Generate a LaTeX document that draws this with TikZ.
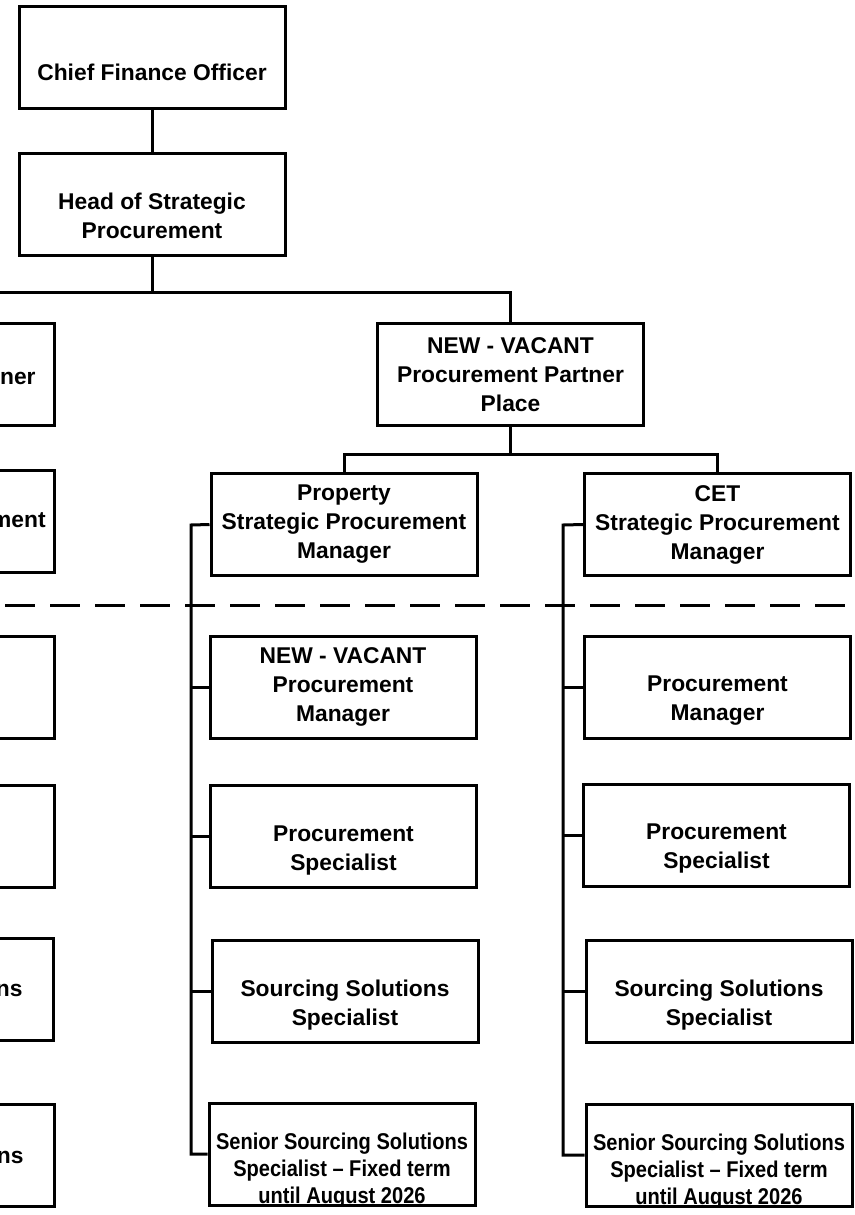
\documentclass[tikz,border=0pt]{standalone}
\usepackage{fontspec}
\setmainfont{Liberation Sans}
\newfontfamily\condfont{Liberation Sans}[FakeStretch=0.88]
\usetikzlibrary{positioning}

\begin{document}
\begin{tikzpicture}[x=0.5pt, y=-0.5pt,
                    post/.style = {
                        draw=black, line width=1.5pt, minimum width=133pt, minimum height=51pt, inner sep=0pt
                    },
                    title/.style = {
                        font=\fontsize{11.4}{14.5}\selectfont\bfseries, align=center, inner sep=0pt
                    },
                    narrow/.style = {
                        font=\condfont\fontsize{11.4}{13.5}\selectfont\bfseries, align=center, inner sep=0pt
                    },
                    link/.style = {line width=1.5pt}
                ]
                    \useasboundingbox (0,0) rectangle (855,1215);
                    \clip (0,0) rectangle (855,1215);

                    % Top of the chart
                    \node[post] (cfo) at (152,57.5) {};
                    \node[title] (cfotxt) at ([yshift=-7.25pt]cfo.center) {Chief Finance Officer};
                    \node[post] (hsp) at (152,204.5) {};
                    \node[title] (hsptxt) at ([yshift=-5.75pt]hsp.center) {Head of Strategic\\Procurement};

                    % Partner level
                    \node[post] (pplace) at (510.5,374) {};
                    \node[title] (pplacetxt) at ([yshift=-0.5pt]pplace.center) {NEW - VACANT\\Procurement Partner\\Place};
                    \node[post] (prop) at (344,524.5) {};
                    \node[title] (proptxt) at (prop.center) {Property\\Strategic Procurement\\Manager};
                    \node[post] (cet) at (717.5,524.5) {};
                    \node[title] (cettxt) at (cet.center) {CET\\Strategic Procurement\\Manager};

                    % Property team
                    \node[post] (pmgr1) at (343,687) {};
                    \node[title] (pmgr1txt) at (pmgr1.center) {NEW - VACANT\\Procurement\\Manager};
                    \node[post] (pspec1) at (343.5,836) {};
                    \node[title] (pspec1txt) at ([yshift=-7.5pt]pspec1.center) {Procurement\\Specialist};
                    \node[post] (sss1) at (345,991) {};
                    \node[title] (sss1txt) at ([yshift=-7.25pt]sss1.center) {Sourcing Solutions\\Specialist};
                    \node[post] (senior1) at (342,1154) {};

                    % CET team
                    \node[post] (pmgr2) at (717.5,687) {};
                    \node[title] (pmgr2txt) at ([yshift=-7pt]pmgr2.center) {Procurement\\Manager};
                    \node[post] (pspec2) at (716.5,835) {};
                    \node[title] (pspec2txt) at ([yshift=-6.75pt]pspec2.center) {Procurement\\Specialist};
                    \node[post] (sss2) at (719,991) {};
                    \node[title] (sss2txt) at ([yshift=-7.25pt]sss2.center) {Sourcing Solutions\\Specialist};
                    \node[post] (senior2) at (719,1155) {};

                    % Fixed term posts, text cut by the box
                    \begin{scope}
                        \clip (senior1.south west) rectangle (senior1.north east);
                        \node[narrow] (senior1txt) at ([yshift=-8.5pt]senior1.center) {Senior Sourcing Solutions\\Specialist – Fixed term\\until August 2026};
                    \end{scope}
                    \begin{scope}
                        \clip (senior2.south west) rectangle (senior2.north east);
                        \node[narrow] (senior2txt) at ([yshift=-8.5pt]senior2.center) {Senior Sourcing Solutions\\Specialist – Fixed term\\until August 2026};
                    \end{scope}

                    % Left column, only its right edge shows
                    \node[post] (left1) at (-79,374) {};
                    \node[post] (left2) at (-79,521) {};
                    \node[post] (left3) at (-79,687) {};
                    \node[post] (left4) at (-79,836) {};
                    \node[post] (left5) at (-80,989) {};
                    \node[post] (left6) at (-79,1155) {};
                    \node[title, anchor=east] (left1txt) at (36,378) {ner};
                    \node[title, anchor=east] (left2txt) at (46,520) {ment};
                    \node[title, anchor=east] (left5txt) at (23,990) {ns};
                    \node[title, anchor=east] (left6txt) at (24,1157) {ns};

                    % Links
                    \coordinate (offleft) at (-20,292);
                    \draw[link] (cfo) -- (hsp);
                    \draw[link] (hsp.south) |- (offleft);
                    \draw[link] (hsp.south) -- (hsp.south |- offleft) -| (pplace.north);
                    \draw[link] (pplace.south) -- ++(0,28) -| (prop.north);
                    \draw[link] (pplace.south) -- ++(0,28) -| (cet.north);

                    % Team rails
                    \coordinate (prail) at (191,525);
                    \coordinate (crail) at (563,525);
                    \draw[link] (prop.west) -- (prail) |- (senior1.west);
                    \draw[link] (cet.west) -- (crail) |- (senior2.west);
                    \foreach \b in {pmgr1, pspec1, sss1}
                        \draw[link] (\b.west) -- (prail |- \b.west);
                    \foreach \b in {pmgr2, pspec2, sss2}
                        \draw[link] (\b.west) -- (crail |- \b.west);

                    % Dashed divider
                    \coordinate (divl) at (5,605);
                    \coordinate (divr) at (860,605);
                    \draw[line width=1.5pt, dash pattern=on 15pt off 7.5pt] (divl) -- (divr);
                \end{tikzpicture}
\end{document}
